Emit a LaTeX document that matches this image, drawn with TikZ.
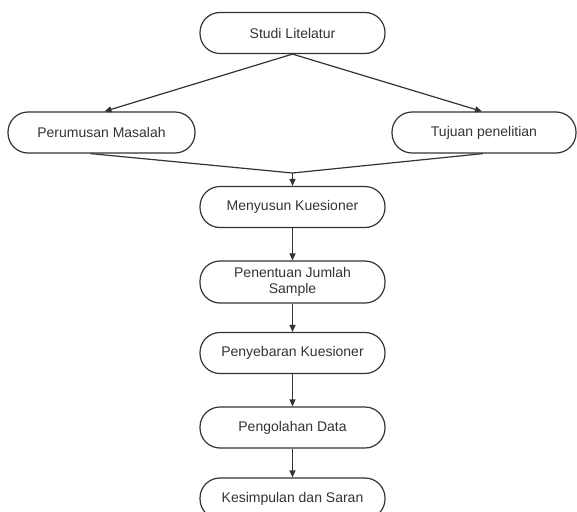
\documentclass[tikz,border=0pt]{standalone}
\usepackage{fontspec}
\setmainfont{Liberation Sans}
\usetikzlibrary{arrows.meta}
\definecolor{ink}{HTML}{333333}
\begin{document}
\begin{tikzpicture}[x=1pt,y=-1pt,
  box/.style={draw=ink, line width=1.2pt, rounded corners=20pt, minimum height=41pt,
    minimum width=185pt, inner sep=0pt, align=center, font=\fontsize{14}{16.5}\selectfont, text=ink},
  conn/.style={draw=ink, line width=1.2pt},
  arr/.style={conn, -{Triangle[length=7pt,width=6pt]}}]
\useasboundingbox (0,0) rectangle (577,511);
\node[box] (studi) at (292.5,33) {Studi Litelatur};
\node[box, minimum width=187pt] (rumus) at (101.5,132.5) {Perumusan Masalah};
\node[box, minimum width=184pt] (tujuan) at (484,132.5) {Tujuan penelitian};
\node[box] (susun) at (292.5,207) {Menyusun Kuesioner};
\node[box, minimum height=42pt] (tentu) at (292.5,282) {Penentuan Jumlah\\Sample};
\node[box] (sebar) at (292.5,353) {Penyebaran Kuesioner};
\node[box] (olah) at (292.5,427.5) {Pengolahan Data};
\node[box] (simpul) at (292.5,498.5) {Kesimpulan dan Saran};
\coordinate (merge) at (292.5,173);
\draw[arr] (studi.south) -- ([xshift=3pt]rumus.north);
\draw[arr] (studi.south) -- ([xshift=-2pt]tujuan.north);
\draw[conn] ([xshift=-11pt]rumus.south) -- (merge);
\draw[conn] ([xshift=-1pt]tujuan.south) -- (merge);
\draw[arr] (merge) -- (susun.north);
\draw[arr] (susun) -- (tentu);
\draw[arr] (tentu) -- (sebar);
\draw[arr] (sebar) -- (olah);
\draw[arr] (olah) -- (simpul);
\end{tikzpicture}
\end{document}
